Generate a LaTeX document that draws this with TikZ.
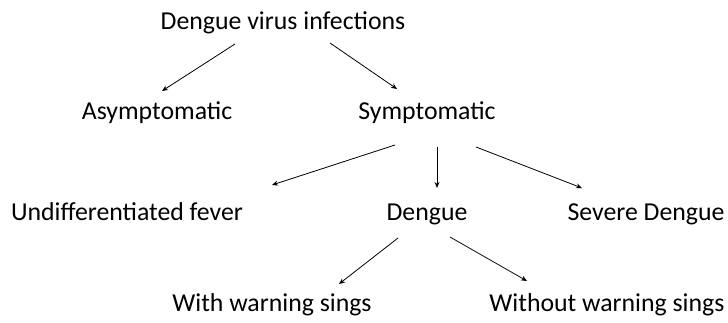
\documentclass[tikz,border=0pt]{standalone}
\usepackage{fontspec}
\setmainfont{Carlito}
\usetikzlibrary{arrows.meta}
\begin{document}
\begin{tikzpicture}[x=1pt,y=-1pt,
  lbl/.style={anchor=base,inner sep=0pt,font=\fontsize{25.8}{30}\selectfont},
  arr/.style={-{Stealth[length=6pt,width=5pt]},line width=0.8pt,black}]
\useasboundingbox (0,0) rectangle (728,323);
\node[lbl] (title) at (283,30) {Dengue virus infections};
\node[lbl] (asym) at (157,120) {Asymptomatic};
\node[lbl] (sym) at (427,120) {Symptomatic};
\node[lbl] (undiff) at (127,221) {Undifferentiated fever};
\node[lbl] (dengue) at (427,221) {Dengue};
\node[lbl] (severe) at (646,221) {Severe Dengue};
\node[lbl] (with) at (272,311) {With warning sings};
\node[lbl] (without) at (607,311) {Without warning sings};
\draw[arr] ([shift={(-48,14)}]title.base) -- ([shift={(5,-29)}]asym.base);
\draw[arr] ([shift={(47,13)}]title.base) -- ([shift={(-30,-31)}]sym.base);
\draw[arr] ([shift={(-32,25)}]sym.base) -- ([shift={(145,-36)}]undiff.base);
\draw[arr] ([shift={(10,27)}]sym.base) -- ([shift={(10,-33)}]dengue.base);
\draw[arr] ([shift={(49,27)}]sym.base) -- ([shift={(-64,-33)}]severe.base);
\draw[arr] ([shift={(-29,17)}]dengue.base) -- ([shift={(67,-27)}]with.base);
\draw[arr] ([shift={(23,16)}]dengue.base) -- ([shift={(-80,-30)}]without.base);
\end{tikzpicture}
\end{document}
